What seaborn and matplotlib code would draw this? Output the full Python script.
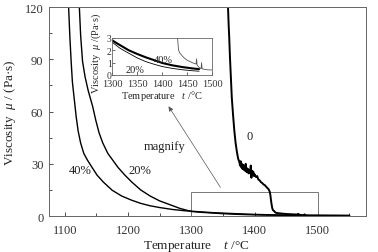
import matplotlib
matplotlib.use("Agg")
import matplotlib.pyplot as plt
import seaborn as sns
from matplotlib.patches import Rectangle
from matplotlib.ticker import MultipleLocator

# viscosity curves (temperature in C, viscosity in Pa.s)
t_40 = [1106, 1108, 1110, 1112, 1115, 1118, 1121, 1125, 1130, 1136,
        1143, 1151, 1161, 1175, 1190, 1205, 1220, 1235, 1250, 1270,
        1290, 1310, 1333, 1350, 1367, 1385, 1400, 1420, 1440, 1460, 1474]
mu_40 = [120, 103, 89, 77, 67, 57, 49, 42, 36, 32,
         28, 23.5, 19.5, 14.8, 11.5, 9.2, 7.3, 5.9, 4.9, 3.8,
         3.05, 2.55, 2.0, 1.7, 1.43, 1.18, 0.97, 0.78, 0.64, 0.53, 0.47]

t_20 = [1123, 1125, 1128, 1132, 1137, 1144, 1149, 1154, 1160, 1168,
        1176, 1184, 1195, 1206, 1220, 1235, 1250, 1265, 1282, 1300,
        1316, 1333, 1350, 1367, 1385, 1400, 1420, 1440, 1460, 1474]
mu_20 = [120, 104, 89, 80, 72, 63, 55, 48, 42, 36,
         32, 28, 23.5, 19.5, 15, 11.5, 8.7, 6.7, 4.4, 2.65,
         2.15, 1.76, 1.38, 1.08, 0.85, 0.68, 0.53, 0.42, 0.34, 0.3]

t_0 = [1358, 1359, 1360, 1361, 1362, 1363, 1364, 1366, 1368, 1370,
       1372, 1374, 1376, 1377, 1378, 1379, 1380, 1381, 1382, 1383,
       1384, 1385, 1386, 1387, 1388, 1389, 1390, 1391, 1392, 1393,
       1394, 1395, 1396, 1397, 1398, 1399, 1400, 1402, 1404, 1406,
       1408, 1410, 1412, 1414, 1416, 1418, 1420, 1422, 1424, 1425,
       1426, 1427, 1428, 1429, 1430, 1431, 1432, 1433, 1435, 1440,
       1445, 1450, 1455, 1460, 1465, 1468, 1469, 1470, 1471, 1473,
       1476, 1478, 1479, 1480, 1482, 1485, 1490, 1500, 1510, 1520,
       1530, 1540, 1550]
mu_0 = [120, 110, 102, 92, 84, 76, 68, 58, 49, 42,
        37, 33, 31, 29, 31.5, 28, 30, 27, 29.5, 26.5,
        28.5, 26, 30, 25.5, 27.5, 25, 27, 24.5, 26.5, 25,
        29, 22, 26, 24, 25.5, 23, 24, 22.5, 23, 21,
        20.5, 19.5, 19, 18.2, 17.8, 17, 16.2, 15.5, 14, 12,
        9, 6.5, 4.5, 3.5, 3.1, 2.9, 2.4, 2.0, 1.8, 1.55,
        1.35, 1.2, 1.1, 1.0, 0.92, 0.88, 1.3, 0.8, 0.75, 0.65,
        0.55, 0.5, 1.0, 0.5, 0.48, 0.45, 0.42, 0.4, 0.38, 0.35,
        0.33, 0.3, 0.28]

zoom_t = (1300, 1500)
zoom_mu = (0, 14)

sns.set_style("ticks")
plt.rcParams['font.family'] = ['Liberation Serif', 'DejaVu Serif']
plt.rcParams['mathtext.fontset'] = 'custom'
plt.rcParams['mathtext.it'] = 'Liberation Serif:italic'
plt.rcParams['mathtext.rm'] = 'Liberation Serif'

fig = plt.figure(figsize=(3.78, 2.53), dpi=100)
ax = fig.add_axes([0.1296, 0.142, 0.8384, 0.826])

sns.lineplot(x=t_40, y=mu_40, ax=ax, color='k', lw=1.0, sort=False, estimator=None)
sns.lineplot(x=t_20, y=mu_20, ax=ax, color='k', lw=1.0, sort=False, estimator=None)
sns.lineplot(x=t_0, y=mu_0, ax=ax, color='k', lw=1.4, sort=False, estimator=None)

ax.set_xlim(1075, 1576)
ax.set_ylim(0, 120)
ax.xaxis.set_major_locator(MultipleLocator(100))
ax.xaxis.set_minor_locator(MultipleLocator(50))
ax.yaxis.set_major_locator(MultipleLocator(30))
ax.yaxis.set_minor_locator(MultipleLocator(15))
ax.tick_params(which='both', direction='in', labelsize=9, colors='#333333', top=False, right=False)
ax.tick_params(which='major', length=3, width=0.6)
ax.tick_params(which='minor', length=2, width=0.6)
ax.tick_params(axis='x', pad=6)
ax.tick_params(axis='y', pad=4)
for s in ax.spines.values():
    s.set_color('#666666')
    s.set_linewidth(0.7)

ax.set_xlabel("Temperature    $t$ /°C", fontsize=9.5)
ax.xaxis.set_label_coords(0.465, -0.105)
ax.set_ylabel("Viscosity  $\\mu$ / (Pa·s)", fontsize=9.5)
ax.yaxis.set_label_coords(-0.097, 0.5)

# zoomed region box and arrow
ax.add_patch(Rectangle((zoom_t[0], zoom_mu[0]), zoom_t[1] - zoom_t[0], zoom_mu[1] - zoom_mu[0],
                       fill=False, edgecolor='#777777', lw=0.7))
ax.annotate("", xy=(1264, 63), xytext=(1346, 16.5),
            arrowprops=dict(arrowstyle='-|>', color='#555555', lw=0.5, mutation_scale=7,
                            facecolor='k', shrinkA=0, shrinkB=0))

ax.text(1257, 40.3, "magnify", fontsize=9, ha='center', va='center', color='#222222')
ax.text(1125, 26.4, "40%", fontsize=9, ha='center', va='center', color='#222222')
ax.text(1218, 26.4, "20%", fontsize=9, ha='center', va='center', color='#222222')
ax.text(1392, 46, "0", fontsize=9, ha='center', va='center', color='#222222')

# inset
axin = fig.add_axes([0.297, 0.70, 0.264, 0.146])
sns.lineplot(x=t_40, y=mu_40, ax=axin, color='k', lw=1.5, sort=False, estimator=None)
sns.lineplot(x=t_20, y=mu_20, ax=axin, color='k', lw=0.6, sort=False, estimator=None)
sns.lineplot(x=t_0, y=mu_0, ax=axin, color='#555555', lw=0.6, sort=False, estimator=None)
axin.set_xlim(1300, 1500)
axin.set_ylim(0, 3)
axin.xaxis.set_major_locator(MultipleLocator(50))
axin.yaxis.set_major_locator(MultipleLocator(1))
axin.tick_params(which='both', direction='in', length=2, width=0.5, colors='#333333')
axin.tick_params(axis='x', pad=3, labelsize=7.5)
axin.tick_params(axis='y', pad=0.5, labelsize=7)
for s in axin.spines.values():
    s.set_color('#666666')
    s.set_linewidth(0.6)
axin.set_xlabel("Temperature   $t$ /°C", fontsize=7.5, labelpad=0)
axin.set_ylabel("Viscosity  $\\mu$ /(Pa·s)", fontsize=7.5, labelpad=2)
axin.yaxis.set_label_coords(-0.095, 0.62)
axin.text(1403, 1.27, "40%", fontsize=7.5, ha='center', va='center', color='#222222')
axin.text(1345, 0.45, "20%", fontsize=7.5, ha='center', va='center', color='#222222')

fig.savefig("out.png", dpi=100)
